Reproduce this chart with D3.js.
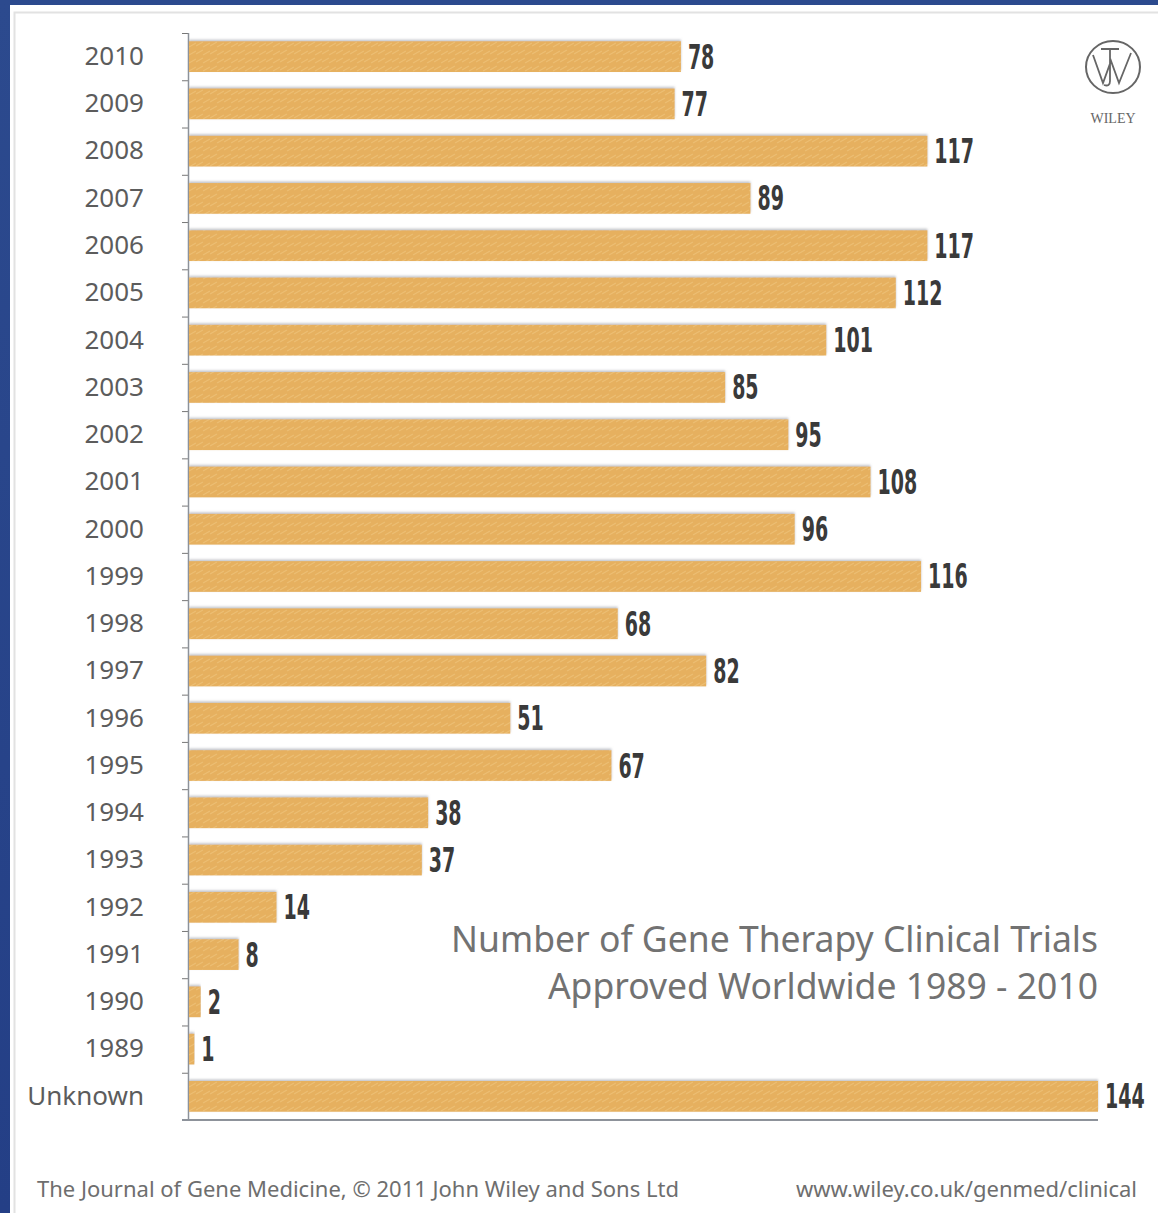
<!DOCTYPE html>
<html>
<head>
<meta charset="utf-8">
<script src="https://cdn.jsdelivr.net/npm/d3@7"></script>
<style>
	body { margin: 0; background: #fff; }
	svg { display: block; }
</style>
</head>
<body>
<div id="chart"></div>
<script>
// categories top to bottom, as in the picture
var years = ["2010", "2009", "2008", "2007", "2006", "2005", "2004", "2003", "2002", "2001", "2000",
	"1999", "1998", "1997", "1996", "1995", "1994", "1993", "1992", "1991", "1990", "1989", "Unknown"];
var trials = [78, 77, 117, 89, 117, 112, 101, 85, 95, 108, 96,
	116, 68, 82, 51, 67, 38, 37, 14, 8, 2, 1, 144];
var titleLines = ["Number of Gene Therapy Clinical Trials", "Approved Worldwide 1989 - 2010"];
var sourceText = "The Journal of Gene Medicine, \u00a9 2011 John Wiley and Sons Ltd";
var urlText = "www.wiley.co.uk/genmed/clinical";

var W = 1158, H = 1213;
var svg = d3.select("#chart").append("svg")
	.attr("width", W)
	.attr("height", H);

// blue frame
var defs = svg.append("defs");
var grad = defs.append("linearGradient").attr("id", "frame").attr("x1", 0).attr("y1", 0).attr("x2", 0).attr("y2", 1);
grad.append("stop").attr("offset", "0%").attr("stop-color", "#2c4a8e");
grad.append("stop").attr("offset", "100%").attr("stop-color", "#243f86");
svg.append("rect").attr("width", W).attr("height", H).attr("fill", "url(#frame)");
svg.append("rect").attr("x", 10).attr("y", 5).attr("width", W - 10).attr("height", H - 5).attr("fill", "#fff");
svg.append("rect").attr("x", 14.5).attr("y", 12.5).attr("width", W).attr("height", H)
	.attr("fill", "none").attr("stroke", "#e2e2e2").attr("stroke-width", 2);

// bar texture
var pat = defs.append("pattern").attr("id", "grain").attr("patternUnits", "userSpaceOnUse")
	.attr("width", 14).attr("height", 8);
pat.append("rect").attr("width", 14).attr("height", 8).attr("fill", "#e6b05e");
pat.append("path").attr("d", "M0,6 L7,2 M7,7 L14,3").attr("stroke", "#ecbd72").attr("stroke-width", 1.4).attr("fill", "none");
var shadow = defs.append("filter").attr("id", "shadow").attr("x", "-2%").attr("y", "-30%").attr("width", "104%").attr("height", "160%");
shadow.append("feDropShadow").attr("dx", 0).attr("dy", -1.5).attr("stdDeviation", 1.2)
	.attr("flood-color", "#8a8f99").attr("flood-opacity", 0.55);

var margin = { left: 188, top: 33 };
var x = d3.scaleLinear().domain([0, 144]).range([margin.left, 1098]);
var y = d3.scaleBand().domain(years).range([margin.top, 1120]).paddingInner(0.35).paddingOuter(0.175);

var rows = years.map((yr, i) => ({ year: yr, value: trials[i] }));

// axes
var yAxis = d3.axisLeft(y).tickSize(0).tickPadding(44).tickFormat(d => d);
var yg = svg.append("g").attr("transform", `translate(${margin.left},0)`).call(yAxis);
yg.select(".domain").remove();
yg.selectAll("text")
	.attr("font-family", "'Noto Sans', sans-serif")
	.attr("font-size", 26)
	.attr("fill", "#5c5c5c");

// band boundary ticks
var step = y.step();
var bounds = d3.range(years.length).map(i => margin.top + i * step);
svg.append("g").selectAll("line").data(bounds).enter().append("line")
	.attr("x1", margin.left - 6).attr("x2", margin.left)
	.attr("y1", d => d + 0.5).attr("y2", d => d + 0.5)
	.attr("stroke", "#777").attr("stroke-width", 1);

svg.append("line")
	.attr("x1", margin.left + 0.5).attr("x2", margin.left + 0.5)
	.attr("y1", margin.top).attr("y2", 1120)
	.attr("stroke", "#8d929a").attr("stroke-width", 1.5);
svg.append("line")
	.attr("x1", margin.left - 6).attr("x2", x(144))
	.attr("y1", 1120).attr("y2", 1120)
	.attr("stroke", "#8d929a").attr("stroke-width", 2);

// bars
svg.append("g").selectAll("rect").data(rows).enter().append("rect")
	.attr("x", margin.left + 1)
	.attr("y", d => y(d.year))
	.attr("width", d => x(d.value) - margin.left - 1)
	.attr("height", y.bandwidth())
	.attr("fill", "url(#grain)")
	.attr("filter", "url(#shadow)");

// value labels
svg.append("g").selectAll("text").data(rows).enter().append("text")
	.attr("x", d => x(d.value) + 7)
	.attr("y", d => y(d.year) + y.bandwidth() / 2 + 12)
	.attr("font-family", "'DejaVu Sans Condensed', 'Liberation Sans Narrow', sans-serif")
	.attr("font-weight", "bold")
	.attr("font-size", 33)
	.attr("fill", "#3a3a3a")
	.attr("transform", d => `translate(${x(d.value) + 7},0) scale(0.64,1) translate(${-(x(d.value) + 7)},0)`)
	.text(d => d.value);

// title
svg.append("g").selectAll("text").data(titleLines).enter().append("text")
	.attr("x", 1098)
	.attr("y", (d, i) => 952 + i * 47)
	.attr("text-anchor", "end")
	.attr("font-family", "'Noto Sans', sans-serif")
	.attr("font-size", 35.5)
	.attr("fill", "#727272")
	.text(d => d);

// footer
svg.append("text")
	.attr("x", 37).attr("y", 1197)
	.attr("font-family", "'Noto Sans', sans-serif")
	.attr("font-size", 22)
	.attr("fill", "#6e6e6e")
	.text(sourceText);
svg.append("text")
	.attr("x", 1137).attr("y", 1197)
	.attr("text-anchor", "end")
	.attr("font-family", "'Noto Sans', sans-serif")
	.attr("font-size", 22)
	.attr("fill", "#6e6e6e")
	.text(urlText);

// wiley logo
var logo = svg.append("g").attr("transform", "translate(1113,67)").attr("fill", "none").attr("stroke", "#666");
logo.append("ellipse").attr("rx", 27).attr("ry", 26).attr("stroke-width", 2);
logo.append("path").attr("stroke-width", 1.8)
	.attr("d", "M-20,-12 L-10,16 L-2,-6 L6,16 L18,-14 M-12,-18 L6,-18 M-3,-18 L-3,14 Q-3,20 -9,18");
logo.append("text").attr("y", 56).attr("text-anchor", "middle")
	.attr("stroke", "none").attr("fill", "#666")
	.attr("font-family", "'Liberation Serif', serif").attr("font-size", 14)
	.text("WILEY");
</script>
</body>
</html>
